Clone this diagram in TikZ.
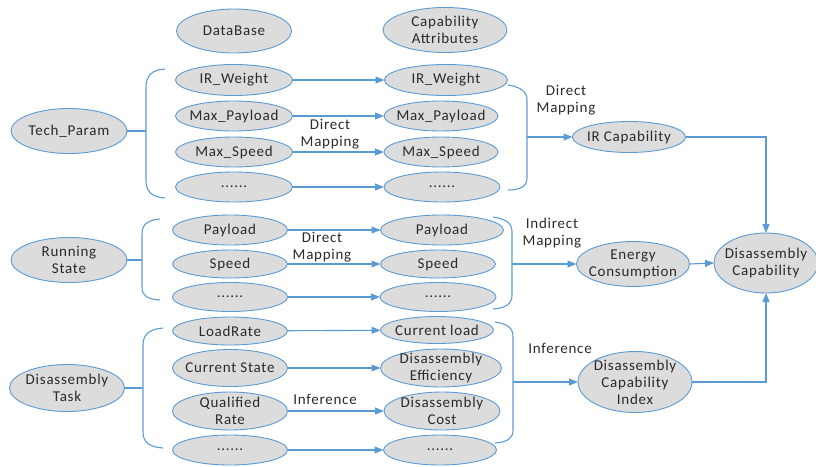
\documentclass[tikz,border=0pt]{standalone}
\usepackage{fontspec}
\setmainfont[LetterSpace=5]{Carlito}
\usetikzlibrary{shapes.geometric,arrows.meta}
\definecolor{lblue}{HTML}{5B9BD5}
\definecolor{efill}{HTML}{DCDCDC}
\definecolor{txt}{HTML}{2A2A2A}
\newcommand\Ell[6]{\node[ell,minimum width=#4pt,minimum height=#5pt,label={[lbl]center:{#6}}] (#1) at (#2,#3) {};}
\begin{document}
\begin{tikzpicture}[x=1pt,y=-1pt,
  ell/.style={ellipse,draw=lblue,fill=efill,line width=0.9pt,inner sep=0pt,outer sep=0pt},
  lbl/.style={align=center,text=txt,font=\fontsize{15}{17}\selectfont,inner sep=0pt},
  conn/.style={draw=lblue,line width=1.1pt},
  arr/.style={conn,-{Triangle[length=9pt,width=7pt]}}
]
\useasboundingbox (0,0) rectangle (816,466);

% headers
\Ell{db}{234}{31}{115}{44}{DataBase}
\Ell{ca}{445}{30}{124}{45}{Capability\\Attributes}

% sources
\Ell{tp}{69}{131}{116}{45}{Tech\_Param}
\Ell{rs}{69}{260}{116}{45}{Running\\State}
\Ell{dt}{67}{388}{115}{47}{Disassembly\\Task}

% tech group
\Ell{a1}{234}{80}{117}{31}{IR\_Weight}
\Ell{a2}{234}{116}{117}{30}{Max\_Payload}
\Ell{a3}{234}{152}{117}{30}{Max\_Speed}
\Ell{a4}{234}{187}{117}{30}{......}
\Ell{b1}{446}{80}{123}{31}{IR\_Weight}
\Ell{b2}{441}{116}{114}{30}{Max\_Payload}
\Ell{b3}{441}{152}{114}{30}{Max\_Speed}
\Ell{b4}{442}{187}{116}{30}{......}

% running group
\Ell{c1}{230}{230}{115}{30}{Payload}
\Ell{c2}{230}{264}{115}{28}{Speed}
\Ell{c3}{230}{297}{115}{29}{......}
\Ell{d1}{442}{230}{123}{30}{Payload}
\Ell{d2}{438}{264}{115}{28}{Speed}
\Ell{d3}{438}{297}{116}{29}{......}

% task group
\Ell{e1}{230}{331}{115}{28}{LoadRate}
\Ell{e2}{230}{368}{115}{37}{Current State}
\Ell{e3}{230}{411}{115}{38}{Qualified\\Rate}
\Ell{e4}{230}{450}{115}{30}{......}
\Ell{f1}{437}{330}{113}{27}{Current load}
\Ell{f2}{441}{368}{121}{38}{Disassembly\\Efficiency}
\Ell{f3}{442}{411}{116}{38}{Disassembly\\Cost}
\Ell{f4}{440}{450}{113}{30}{......}

% right side
\Ell{ir}{629}{137}{113}{31}{IR Capability}
\Ell{en}{633}{264}{113}{45}{Energy\\Consumption}
\Ell{dc}{766}{263}{104}{60}{Disassembly\\Capability}
\Ell{dci}{635}{382}{114}{61}{Disassembly\\Capability\\Index}

% labels
\node[lbl] (l1) at (330,134) {Direct\\Mapping};
\node[lbl] (l2) at (322,247) {Direct\\Mapping};
\node[lbl] (l3) at (325,399) {Inference};
\node[lbl] (l4) at (566,100) {Direct\\Mapping};
\node[lbl] (l5) at (552,233) {Indirect\\Mapping};
\node[lbl] (l6) at (560,348) {Inference};

% bracket coordinates
\coordinate (tL) at (146,131);
\coordinate (rL) at (142,260);
\coordinate (kL) at (143,388);
\coordinate (tR) at (527,137);
\coordinate (rR) at (512,264);
\coordinate (kR) at (513,382);

% brackets
\draw[conn] (165,69) .. controls (151,70) and (146,76) .. (146,88) -- (146,180) .. controls (146,191) and (151,197) .. (165,198);
\draw[conn] (160,219) .. controls (147,220) and (142,225) .. (142,234) -- (142,287) .. controls (142,296) and (147,299) .. (160,300);
\draw[conn] (163,328) .. controls (149,329) and (143,335) .. (143,345) -- (143,432) .. controls (143,442) and (149,447) .. (163,448);
\draw[conn] (508,85) .. controls (521,87) and (527,92) .. (527,100) -- (527,178) .. controls (527,186) and (521,190) .. (508,190);
\draw[conn] (493,217) .. controls (506,219) and (512,223) .. (512,232) -- (512,295) .. controls (512,304) and (506,308) .. (493,309);
\draw[conn] (495,322) .. controls (508,324) and (513,328) .. (513,337) -- (513,430) .. controls (513,438) and (508,442) .. (495,443);

% source lines to brackets
\draw[conn] (tp.east) -- (tL);
\draw[conn] (rs.east) -- (rL);
\draw[conn] (dt.east) -- (kL);

% column arrows
\draw[arr] (a1) -- (b1);
\draw[arr] (a2) -- (b2);
\draw[arr] (a3) -- (b3);
\draw[arr] (a4) -- (b4);
\draw[arr] (c1) -- (d1);
\draw[arr] (c2) -- (d2);
\draw[arr] (c3) -- (d3);
\draw[arr] (e1) -- (f1);
\draw[arr] (e2) -- (f2);
\draw[arr] (e3) -- (f3);
\draw[arr] (e4) -- (f4);

% bracket outputs
\draw[arr] (tR) -- (ir.west);
\draw[arr] (rR) -- (en.west);
\draw[arr] (kR) -- (dci.west);

% to disassembly capability
\draw[arr] (ir.east) -| (dc.north);
\draw[arr] (en.east) -- (dc.west);
\draw[arr] (dci.east) -| (dc.south);
\end{tikzpicture}
\end{document}
